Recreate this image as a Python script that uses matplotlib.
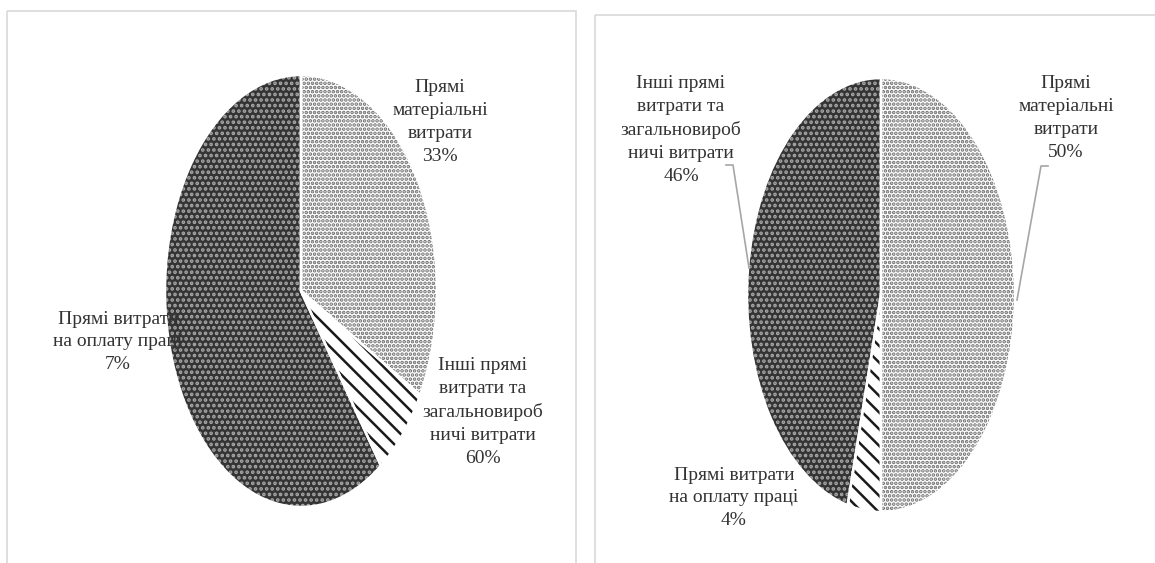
import matplotlib
matplotlib.use('Agg')
import matplotlib.pyplot as plt
from matplotlib.patches import Rectangle

plt.rcParams['font.family'] = ['Liberation Serif', 'DejaVu Serif']
plt.rcParams['hatch.linewidth'] = 1.8

categories = ['Прямі матеріальні витрати',
              'Прямі витрати на оплату праці',
              'Інші прямі витрати та загальновиробничі витрати']
# how the labels are broken into lines on the chart
label_lines = ['Прямі\nматеріальні\nвитрати',
               'Прямі витрати\nна оплату праці',
               'Інші прямі\nвитрати та\nзагальновироб\nничі витрати']
shares_left = [33, 7, 60]
shares_right = [50, 4, 46]

fills = ['white', 'white', '#343434']
hatch_colors = ['#6c6c6c', '#1a1a1a', '#a8a8a8']
hatches = ['....', '\\\\', '...']
text_color = '#333333'

W, H = 1155, 563
fig = plt.figure(figsize=(W / 100, H / 100), dpi=100)

# pie boxes in pixels: left, top, width, height
pie_boxes = [(165, 75, 272, 432), (747, 78, 268, 434)]
# label centres in pixels, in the order of categories
label_pos = [
    [(440, 122), (118, 342), (483, 412)],
    [(1066, 118), (734, 498), (681, 130)],
]
leaders_right = [
    [(1048, 166), (1041, 166), (1017, 300)],
    None,
    [(726, 165), (733, 165), (749, 268)],
]

for k, shares in enumerate([shares_left, shares_right]):
    l, t, w, h = pie_boxes[k]
    ax = fig.add_axes([l / W, (H - t - h) / H, w / W, h / H])
    wedges, _ = ax.pie(shares, colors=fills, startangle=90, counterclock=False,
                       wedgeprops=dict(linewidth=0))
    for wd, hc, ht in zip(wedges, hatch_colors, hatches):
        wd.set_edgecolor(hc)
        wd.set_hatch(ht)
    # white separators between slices
    ax.pie(shares, colors=['none'] * 3, startangle=90, counterclock=False,
           wedgeprops=dict(linewidth=1.8, edgecolor='white', fill=False))
    ax.set_aspect('auto')
    ax.set_xlim(-1, 1)
    ax.set_ylim(-1, 1)
    ax.axis('off')

# overlay in pixel coordinates for texts, leader lines and panel frames
ov = fig.add_axes([0, 0, 1, 1])
ov.set_xlim(0, W)
ov.set_ylim(H, 0)
ov.axis('off')

ov.add_patch(Rectangle((7, 11), 569, 600, fill=False, edgecolor='#d9d9d9', lw=1.2))
ov.add_patch(Rectangle((595, 15), 600, 600, fill=False, edgecolor='#d9d9d9', lw=1.2))

for k, shares in enumerate([shares_left, shares_right]):
    for i, v in enumerate(shares):
        x, y = label_pos[k][i]
        ov.text(x, y, f'{label_lines[i]}\n{v}%', ha='center', va='center',
                fontsize=14, color=text_color, linespacing=1.45)

for pts in leaders_right:
    if pts is None:
        continue
    ov.plot([p[0] for p in pts], [p[1] for p in pts], color='#a6a6a6', lw=1.2)

fig.savefig('out.png', dpi=100)
